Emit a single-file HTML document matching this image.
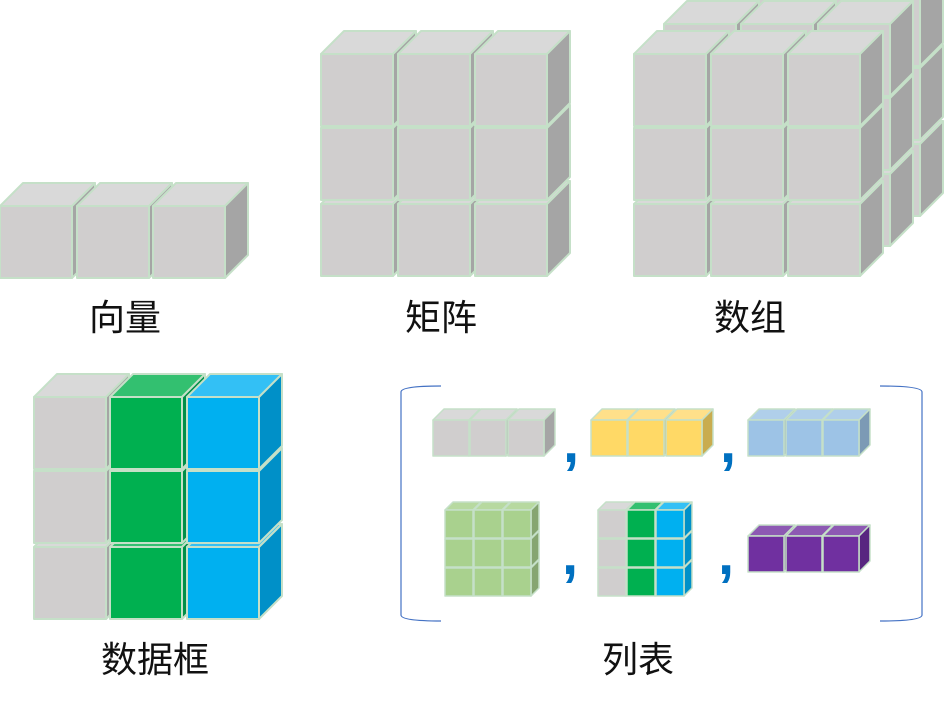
<!DOCTYPE html>
<html><head><meta charset="utf-8"><style>
html,body{margin:0;padding:0;background:#fff;width:944px;height:704px;overflow:hidden}
svg{display:block}
text{font-family:"Liberation Sans","Noto Sans CJK SC",sans-serif;font-size:36px;fill:#111}
.cm{fill:#0070c0;font-size:58px;font-weight:bold}
</style></head><body>
<svg id="s" width="944" height="704" viewBox="0 0 944 704" xmlns="http://www.w3.org/2000/svg">
<g id="g"></g>
<text x="125" y="330" text-anchor="middle">向量</text>
<text x="441" y="330" text-anchor="middle">矩阵</text>
<text x="750" y="330" text-anchor="middle">数组</text>
<text x="155" y="672" text-anchor="middle">数据框</text>
<text x="638" y="672" text-anchor="middle">列表</text>
<g fill="none" stroke="#4472c4" stroke-width="1.2">
<path d="M441 386 Q401 386 401 392 L401 615 Q401 621 441 621"/>
<path d="M880 386 Q922 386 922 392 L922 615 Q922 621 880 621"/>
</g>
<text class="cm" x="563" y="462">,</text>
<text class="cm" x="720" y="462">,</text>
<text class="cm" x="562" y="574">,</text>
<text class="cm" x="718" y="574">,</text>
</svg>
<script>
var out='';
var C={
 gray:['#d0cece','#d9d9d9','#a5a5a5'],
 green:['#00b050','#33c070','#008f48'],
 blue:['#00b0f0','#33c0f5','#0090c8'],
 yel:['#ffd966','#ffe08a','#c9ac4f'],
 lb:['#9dc3e6','#b0cfea','#7c9ab5'],
 lg:['#a9d18e','#b7d9a0','#86a571'],
 pur:['#7030a0','#8d59b3','#582680']
};
function cube(x,y,s,d,c,sw){
 var f=C[c];sw=sw||2;
 var st='stroke="#c5e0c8" stroke-width="'+sw+'" stroke-linejoin="round"';
 out+='<polygon points="'+x+','+y+' '+(x+d)+','+(y-d)+' '+(x+s+d)+','+(y-d)+' '+(x+s)+','+y+'" fill="'+f[1]+'" '+st+'/>';
 out+='<polygon points="'+(x+s)+','+y+' '+(x+s+d)+','+(y-d)+' '+(x+s+d)+','+(y+s-d)+' '+(x+s)+','+(y+s)+'" fill="'+f[2]+'" '+st+'/>';
 out+='<rect x="'+x+'" y="'+y+'" width="'+s+'" height="'+s+'" fill="'+f[0]+'" '+st+'/>';
}
function grid(xs,ys,s,d,cols,sw){
 for(var r=ys.length-1;r>=0;r--)for(var i=0;i<xs.length;i++)cube(xs[i],ys[r],s,d,typeof cols==='string'?cols:cols[i],sw);
}
grid([0,77,153],[206],72,23,'gray');
grid([321,398,475],[54,128,204],72,23,'gray');
grid([694,771,848],[-6,68,144],72,23,'gray');
grid([664,741,818],[24,98,174],72,23,'gray');
grid([634,711,788],[54,128,204],72,23,'gray');
grid([34,110,187],[397,471,547],72,23,['gray','green','blue']);
grid([433,470,508],[420],36,11,'gray',1.5);
grid([591,628,666],[420],36,11,'yel',1.5);
grid([748,786,823],[420],36,11,'lb',1.5);
grid([445,474,503],[510,539,568],28,8,'lg',1.5);
grid([598,627,656],[510,539,568],28,8,['gray','green','blue'],1.5);
grid([748,786,823],[536],36,11,'pur',1.5);
document.getElementById('g').innerHTML=out;
</script>
</body></html>
